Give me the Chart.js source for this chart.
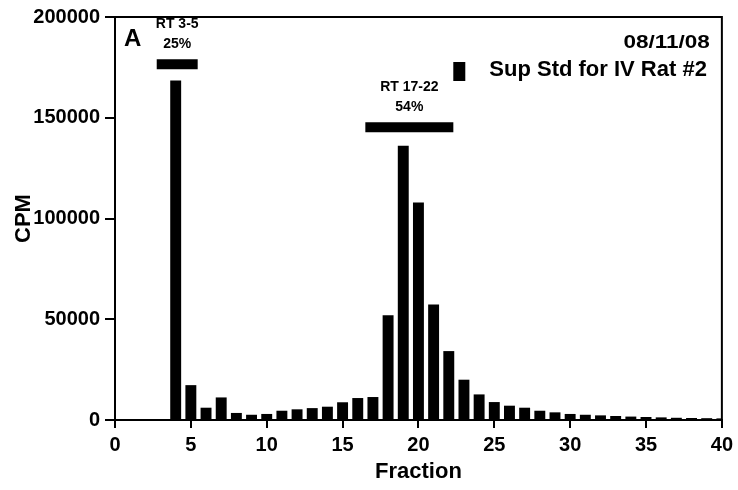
<!DOCTYPE html>
<html>
<head>
<meta charset="utf-8">
<script src="https://cdn.jsdelivr.net/npm/chart.js@4.4.1/dist/chart.umd.min.js"></script>
<style>
  body { margin: 0; background: #fff; }
  canvas { display: block; }
</style>
</head>
<body>
<canvas id="FractionChart" width="738" height="490"></canvas>
<script>
// fraction number and counts per minute
const fractions = [1, 2, 3, 4, 5, 6, 7, 8, 9, 10,
                   11, 12, 13, 14, 15, 16, 17, 18, 19, 20,
                   21, 22, 23, 24, 25, 26, 27, 28, 29, 30,
                   31, 32, 33, 34, 35, 36, 37, 38, 39, 40];
const cpm = [0, 0, 0, 168500, 17300, 6100, 11200, 3500, 2600, 3000,
             4600, 5300, 5900, 6600, 8800, 10900, 11400, 52000, 136100, 108000,
             57300, 34200, 20000, 12700, 8900, 7100, 6100, 4600, 3800, 3000,
             2600, 2300, 2000, 1700, 1500, 1300, 1100, 1000, 900, 800];

const yTicks = [0, 50000, 100000, 150000, 200000];
const xTicks = [0, 5, 10, 15, 20, 25, 30, 35, 40];

// retention time windows drawn as thick bars over the peaks
const rangeNames = ['RT 3-5', 'RT 17-22'];
const rangePercent = ['25%', '54%'];
const rangeFrom = [2.75, 16.5];
const rangeTo = [5.45, 22.3];
const rangeLevel = [176500, 145300];

const seriesName = 'Sup Std for IV Rat #2';
const runDate = '08/11/08';
const panelLetter = 'A';

const FONT = "'Liberation Sans', Arial, Helvetica, sans-serif";

function OnLoaded() {
    const ctx = document.getElementById('FractionChart');

    datasets = [{
        type: 'bar',
        label: seriesName,
        data: fractions.map((f, i) => ({ x: f, y: cpm[i] })),
        backgroundColor: '#000',
        borderWidth: 0,
        barPercentage: 0.72,
        categoryPercentage: 1.0,
        order: 2
    }];

    for (let i = 0; i < rangeNames.length; i++) {
        datasets.push({
            type: 'line',
            label: rangeNames[i],
            data: [{ x: rangeFrom[i], y: rangeLevel[i] }, { x: rangeTo[i], y: rangeLevel[i] }],
            borderColor: '#000',
            borderWidth: 10,
            borderCapStyle: 'butt',
            pointRadius: 0,
            fill: false,
            order: 1
        });
    }

    // text labels, legend and the closing frame
    const extras = {
        id: 'extras',
        afterDatasetsDraw(chart) {
            const g = chart.ctx;
            const area = chart.chartArea;
            const xs = chart.scales.x, ys = chart.scales.y;
            g.save();
            g.fillStyle = '#000';
            g.strokeStyle = '#000';

            // top and right edges of the box
            g.lineWidth = 2;
            g.beginPath();
            g.moveTo(area.left, area.top);
            g.lineTo(area.right, area.top);
            g.lineTo(area.right, area.bottom);
            g.stroke();

            // range labels above each bar
            g.textAlign = 'center';
            g.textBaseline = 'middle';
            g.font = 'bold 14px ' + FONT;
            for (let i = 0; i < rangeNames.length; i++) {
                const cx = xs.getPixelForValue((rangeFrom[i] + rangeTo[i]) / 2);
                const cy = ys.getPixelForValue(rangeLevel[i]);
                g.fillText(rangeNames[i], cx, cy - 40);
                g.fillText(rangePercent[i], cx, cy - 20);
            }

            // panel letter
            g.textAlign = 'left';
            g.font = 'bold 24px ' + FONT;
            g.fillText(panelLetter, area.left + 9, area.top + 22);

            // date, a bit wide like the original
            g.font = 'bold 18px ' + FONT;
            g.textAlign = 'right';
            g.save();
            g.translate(area.right - 12, area.top + 26);
            g.scale(1.25, 1);
            g.fillText(runDate, 0, 0);
            g.restore();

            // legend
            g.font = 'bold 22px ' + FONT;
            const textRight = area.right - 15;
            const w = g.measureText(seriesName).width;
            g.fillText(seriesName, textRight, area.top + 53);
            g.fillRect(textRight - w - 36, area.top + 45, 12, 19);

            g.restore();
        }
    };

    c = new Chart(ctx, {
        type: 'bar',
        data: { datasets: datasets },
        plugins: [extras],
        options: {
            responsive: false,
            animation: false,
            layout: { padding: { top: 14, right: 16, left: 0, bottom: 0 } },
            plugins: {
                legend: { display: false },
                tooltip: { enabled: false }
            },
            scales: {
                x: {
                    type: 'linear',
                    min: 0,
                    max: 40,
                    offset: false,
                    afterFit: (s) => { s.height = 70; },
                    afterBuildTicks: (s) => { s.ticks = xTicks.map(v => ({ value: v })); },
                    grid: { display: true, drawOnChartArea: false, offset: false, tickLength: 8, color: '#000', lineWidth: 2 },
                    border: { display: true, color: '#000', width: 2 },
                    ticks: { color: '#000', padding: 5, maxRotation: 0, font: { family: FONT, size: 20, weight: 'bold' } },
                    title: {
                        display: true,
                        text: 'Fraction',
                        color: '#000',
                        padding: { top: 0, bottom: 5 },
                        font: { family: FONT, size: 22, weight: 'bold' }
                    }
                },
                y: {
                    min: 0,
                    max: 200000,
                    afterFit: (s) => { s.width = 115; },
                    afterBuildTicks: (s) => { s.ticks = yTicks.map(v => ({ value: v })); },
                    grid: { display: true, drawOnChartArea: false, tickLength: 10, color: '#000', lineWidth: 2 },
                    border: { display: true, color: '#000', width: 2 },
                    ticks: {
                        color: '#000',
                        padding: 5,
                        callback: (v) => String(v),
                        font: { family: FONT, size: 20, weight: 'bold' }
                    },
                    title: {
                        display: true,
                        text: 'CPM',
                        color: '#000',
                        padding: { top: 11, bottom: 0 },
                        font: { family: FONT, size: 22, weight: 'bold' }
                    }
                }
            }
        }
    });
}

OnLoaded();
</script>
</body>
</html>
